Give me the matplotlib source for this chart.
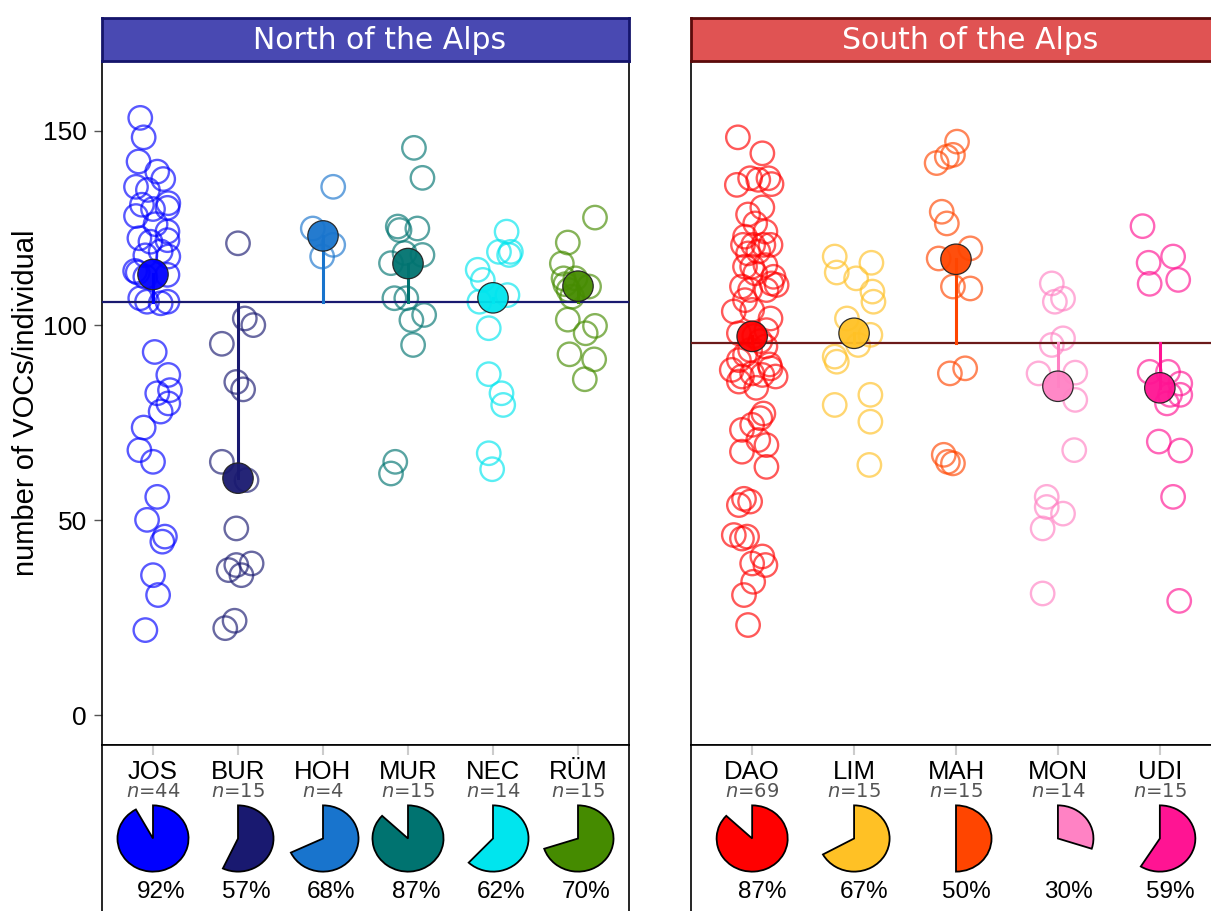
import matplotlib
matplotlib.use("Agg")
import matplotlib.pyplot as plt
from matplotlib.patches import Wedge

plt.rcParams['font.family'] = ['Liberation Sans', 'DejaVu Sans']

# ---- data ----
north_sites = ["JOS", "BUR", "HOH", "MUR", "NEC", "RÜM"]
south_sites = ["DAO", "LIM", "MAH", "MON", "UDI"]
north_n = [44, 15, 4, 15, 14, 15]
south_n = [69, 15, 15, 14, 15]
north_pct = [92, 57, 68, 87, 62, 70]
south_pct = [87, 67, 50, 30, 59]
north_median = [113.1, 60.8, 123.0, 115.9, 107.1, 110.1]
south_median = [97.2, 98.0, 117.0, 84.4, 84.0]
north_ref = 106.0
south_ref = 95.5

jos_vals = [153.3, 148.3, 142.1, 139.5, 137.6, 135.6, 134.8, 131.4, 129.9, 130.2, 128.1,
            124.1, 122.4, 121.5, 121.9, 117.7, 113.6, 113.0, 112.5, 106.1, 106.1, 105.7,
            93.2, 87.3, 82.6, 83.4, 80.0, 77.9, 73.8, 68.0, 65.0, 56.0, 50.1, 45.8, 44.5,
            35.9, 30.8, 21.8, 131.0, 126.0, 118.0, 119.0, 107.0, 114.0]
jos_dx = [-0.15, -0.11, -0.17, 0.05, 0.12, -0.20, -0.06, 0.18, 0.00, 0.17, -0.20,
          0.17, -0.16, -0.03, 0.17, 0.18, -0.18, 0.17, -0.09, -0.07, 0.17, 0.09,
          0.02, 0.18, 0.05, 0.20, 0.18, 0.09, -0.11, -0.16, 0.00, 0.05, -0.07, 0.14, 0.11,
          0.00, 0.06, -0.09, -0.13, 0.03, -0.09, 0.09, -0.15, -0.21]
bur_vals = [121.1, 101.8, 100.1, 95.3, 85.5, 83.6, 65.0, 60.3, 47.9, 38.5, 37.2, 38.9,
            35.9, 24.2, 22.3]
bur_dx = [0.00, 0.08, 0.18, -0.19, -0.02, 0.06, -0.19, 0.10, -0.02, -0.02, -0.11, 0.16,
          0.04, -0.04, -0.15]
hoh_vals = [135.6, 124.9, 120.7, 117.7]
hoh_dx = [0.12, -0.12, 0.12, -0.01]
mur_vals = [145.6, 137.9, 125.4, 124.5, 124.9, 118.1, 116.0, 118.6, 107.0, 107.0, 102.7,
            101.4, 95.0, 65.0, 62.0]
mur_dx = [0.07, 0.17, -0.12, -0.10, 0.11, 0.17, -0.20, -0.04, -0.16, -0.02, 0.19,
          0.04, 0.06, -0.15, -0.20]
nec_vals = [124.1, 118.9, 118.9, 118.1, 114.3, 111.7, 106.1, 107.8, 99.3, 87.5, 82.6,
            79.6, 67.2, 63.1]
nec_dx = [0.16, 0.07, 0.21, 0.19, -0.18, -0.12, -0.16, 0.17, -0.05, -0.05, 0.10,
          0.12, -0.05, -0.01]
rum_vals = [127.7, 121.3, 115.9, 112.1, 112.1, 110.0, 109.1, 107.4, 101.5, 99.9, 98.0,
            92.6, 91.3, 86.2, 110.6]
rum_dx = [0.20, -0.12, -0.19, -0.17, -0.03, 0.13, -0.11, -0.07, -0.12, 0.20, 0.09,
          -0.10, 0.19, 0.08, -0.15]

dao_vals = [148.3, 144.2, 136.1, 137.8, 137.4, 137.8, 136.3, 130.3, 126.2, 124.1, 122.8,
            120.7, 120.7, 120.7, 120.7, 118.5, 115.1, 115.1, 115.5, 113.4, 112.5, 110.0,
            109.1, 109.1, 110.8, 110.4, 103.6, 104.0, 101.8, 98.8, 98.0, 94.6, 93.7, 91.1,
            88.6, 86.9, 87.7, 89.0, 86.9, 87.3, 85.6, 77.4, 76.2, 74.5, 73.2, 69.3, 70.6,
            67.6, 63.7, 53.9, 54.8, 46.2, 45.3, 45.8, 40.7, 38.9, 38.5, 34.2, 30.8, 23.1,
            128.5, 119.0, 106.5, 97.3, 96.0, 92.5, 90.0, 84.0, 55.5]
dao_dx = [-0.14, 0.10, -0.15, -0.02, 0.06, 0.16, 0.19, 0.10, 0.03, 0.13, -0.07,
          -0.09, 0.01, 0.11, 0.18, -0.04, 0.00, -0.07, 0.13, 0.03, 0.21, -0.10,
          -0.02, 0.14, 0.19, 0.24, -0.18, 0.00, 0.18, 0.14, -0.13, 0.13, -0.02, -0.13,
          -0.20, -0.10, 0.00, 0.18, 0.23, 0.10, -0.13, 0.11, 0.08, 0.00, -0.10, 0.14, 0.06,
          -0.10, 0.14, -0.13, -0.02, -0.18, -0.10, -0.05, 0.10, 0.00, 0.13, 0.01, -0.08, -0.04,
          -0.04, 0.06, -0.07, 0.02, 0.08, -0.07, 0.17, 0.04, -0.08]
lim_vals = [117.7, 116.1, 113.6, 112.1, 108.7, 106.1, 101.8, 97.6, 95.0, 92.0, 90.7,
            79.6, 82.2, 75.3, 64.2]
lim_dx = [-0.19, 0.17, -0.17, 0.02, 0.18, 0.19, -0.07, 0.16, 0.04, -0.19, -0.17,
          -0.19, 0.16, 0.16, 0.15]
mah_vals = [147.2, 143.8, 141.7, 143.3, 129.2, 126.2, 119.8, 117.2, 110.0, 109.5, 89.0,
            87.7, 66.8, 65.0, 64.6]
mah_dx = [0.01, -0.03, -0.19, -0.09, -0.14, -0.09, 0.14, -0.17, -0.03, 0.14, 0.09,
          -0.06, -0.12, -0.08, -0.03]
mon_vals = [110.8, 106.1, 106.9, 96.7, 95.0, 87.7, 87.9, 80.9, 68.0, 56.0, 53.4, 51.7,
            47.9, 31.2]
mon_dx = [-0.06, -0.03, 0.05, 0.05, -0.06, -0.19, 0.17, 0.17, 0.16, -0.11, -0.11, 0.05,
          -0.15, -0.15]
udi_vals = [125.5, 116.1, 117.7, 110.7, 111.7, 88.1, 88.1, 85.1, 82.2, 82.2, 80.0, 70.2,
            67.9, 56.0, 29.3]
udi_dx = [-0.17, -0.11, 0.13, -0.10, 0.18, -0.10, 0.08, 0.20, 0.10, 0.20, 0.07, -0.01,
          0.20, 0.13, 0.19]

north_vals = [jos_vals, bur_vals, hoh_vals, mur_vals, nec_vals, rum_vals]
north_dx = [jos_dx, bur_dx, hoh_dx, mur_dx, nec_dx, rum_dx]
south_vals = [dao_vals, lim_vals, mah_vals, mon_vals, udi_vals]
south_dx = [dao_dx, lim_dx, mah_dx, mon_dx, udi_dx]

north_colors = ["#0000ff", "#191970", "#1874cd", "#007370", "#00e5ee", "#458b00"]
south_colors = ["#ff0000", "#ffc125", "#ff4500", "#ff82c4", "#ff1493"]

# ---- layout (pixel boxes on a 1211 x 911 canvas) ----
W, H = 1211, 911


def box(x0, y0, x1, y1):
    return [x0 / W, 1 - y1 / H, (x1 - x0) / W, (y1 - y0) / H]


fig = plt.figure(figsize=(W / 100, H / 100), dpi=100)
ylim = (-7.7, 167.9)


def panel(x0, x1, title, fc, ec, sites, vals, dxs, colors, medians, ref, refcol, ns, pcts, yaxis):
    k = len(sites)
    xlim = (0.4, k + 0.6)
    pos = list(range(1, k + 1))
    ppu = (x1 - x0) / (xlim[1] - xlim[0])  # pixels per category unit

    ax = fig.add_axes(box(x0, 61, x1, 745))
    ax.set_xlim(xlim)
    ax.set_ylim(ylim)
    for p, v, dx, c in zip(pos, vals, dxs, colors):
        ax.scatter([p + d for d in dx], v, s=285, facecolors='none', edgecolors=c,
                   linewidths=1.7, alpha=0.65, zorder=2)
    ax.axhline(ref, color=refcol, lw=1.6, zorder=3)
    for p, m, c in zip(pos, medians, colors):
        ax.plot([p, p], [ref, m], color=c, lw=2.2, zorder=4)
    ax.scatter(pos, medians, s=480, c=colors, edgecolors='#222222', linewidths=0.9,
               alpha=0.95, zorder=5)
    ax.set_xticks([])
    if yaxis:
        ax.set_yticks([0, 50, 100, 150])
        ax.tick_params(axis='y', direction='out', length=6, width=1, color='#555555',
                       labelsize=19, pad=5)
        ax.set_ylabel("number of VOCs/individual", fontsize=21, labelpad=2)
    else:
        ax.set_yticks([])
    for s in ax.spines.values():
        s.set_linewidth(1.2)

    st = fig.add_axes(box(x0, 18, x1, 61))
    st.set_facecolor(fc)
    st.set_xticks([])
    st.set_yticks([])
    for s in st.spines.values():
        s.set_color(ec)
        s.set_linewidth(2)
    st.text(0.5 + 14 / (x1 - x0), 0.47, title, transform=st.transAxes, ha='center',
            va='center', color='white', fontsize=21.5, family='DejaVu Sans')

    bt = fig.add_axes(box(x0, 745, x1, 935))
    bt.set_xlim(xlim)
    bt.set_ylim(0, 190)
    bt.xaxis.tick_top()
    bt.set_xticks(pos)
    bt.tick_params(axis='x', direction='in', length=7, width=1.5, color='#cccccc',
                   labeltop=False, labelbottom=False)
    bt.set_yticks([])
    bt.spines['bottom'].set_visible(False)
    for s in ('top', 'left', 'right'):
        bt.spines[s].set_linewidth(1.2)
    pw = 74 / ppu
    for p, name, n, pct, c in zip(pos, sites, ns, pcts, colors):
        bt.text(p, 935 - 779, name, ha='center', va='baseline', fontsize=18.5)
        bt.text(p, 935 - 797, r"$\it{n}$=%d" % n, ha='center', va='baseline',
                fontsize=14, color='#555555', family='DejaVu Sans')
        bt.text(p + 0.1, 935 - 898, "%d%%" % pct, ha='center', va='baseline', fontsize=17.5)
        ia = bt.inset_axes([p - pw / 2, 935 - 838.5 - 34.5, pw, 69], transform=bt.transData)
        ia.set_xlim(-1, 1)
        ia.set_ylim(-1, 1)
        ia.axis('off')
        ia.add_patch(Wedge((0, 0), 0.96, 90 - 3.6 * pct, 90, facecolor=c,
                           edgecolor='black', linewidth=1.3))


panel(102, 629, "North of the Alps", "#4949b2", "#15156b", north_sites, north_vals,
      north_dx, north_colors, north_median, north_ref, "#191970", north_n, north_pct, True)
panel(691, 1221, "South of the Alps", "#e05353", "#5b0b0b", south_sites, south_vals,
      south_dx, south_colors, south_median, south_ref, "#6b1a1a", south_n, south_pct, False)

fig.savefig("out.png", dpi=100)
